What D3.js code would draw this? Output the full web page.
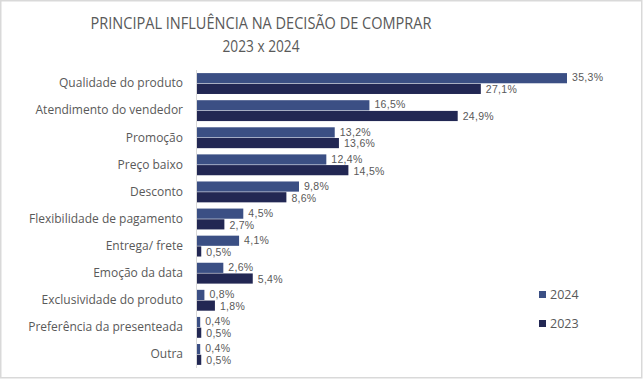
<!DOCTYPE html>
<html>
<head>
<meta charset="utf-8">
<script src="https://cdn.jsdelivr.net/npm/d3@7"></script>
<style>
  body { margin: 0; background: #fff; }
  text { font-family: "Open Sans", "DejaVu Sans", sans-serif; fill: #595959; }
</style>
</head>
<body>
<script>
// Data
const categories = [
  "Qualidade do produto",
  "Atendimento do vendedor",
  "Promoção",
  "Preço baixo",
  "Desconto",
  "Flexibilidade de pagamento",
  "Entrega/ frete",
  "Emoção da data",
  "Exclusividade do produto",
  "Preferência da presenteada",
  "Outra"
];
const years = ["2024", "2023"];
const values2024 = [35.3, 16.5, 13.2, 12.4, 9.8, 4.5, 4.1, 2.6, 0.8, 0.4, 0.4];
const values2023 = [27.1, 24.9, 13.6, 14.5, 8.6, 2.7, 0.5, 5.4, 1.8, 0.5, 0.5];
const colors = { "2024": "#3b4f84", "2023": "#222753" };

const width = 643, height = 381;

const svg = d3.select("body").append("svg")
  .attr("width", width)
  .attr("height", height);

// outer border
svg.append("rect")
  .attr("x", 0.75).attr("y", 0.75)
  .attr("width", 641).attr("height", 377)
  .attr("fill", "#fff")
  .attr("stroke", "#d9d9d9")
  .attr("stroke-width", 1.5);

// title
svg.append("text")
  .attr("x", 261).attr("y", 29)
  .attr("text-anchor", "middle")
  .style("font-size", "16.5px")
  .attr("textLength", 341)
  .attr("lengthAdjust", "spacingAndGlyphs")
  .text("PRINCIPAL INFLUÊNCIA NA DECISÃO DE COMPRAR");

svg.append("text")
  .attr("x", 261).attr("y", 52)
  .attr("text-anchor", "middle")
  .style("font-size", "16.5px")
  .attr("textLength", 77)
  .attr("lengthAdjust", "spacingAndGlyphs")
  .text("2023 x 2024");

// scales
const x = d3.scaleLinear()
  .domain([0, 35.3])
  .range([196, 567]);

const y = d3.scaleBand()
  .domain(categories)
  .range([70, 368])
  .paddingInner(0.19)
  .paddingOuter(0.095);

const ySub = d3.scaleBand()
  .domain(years)
  .range([0, y.bandwidth()])
  .padding(0.05);

const rows = categories.map((c, i) => ({
  category: c,
  bars: [
    { year: "2024", value: values2024[i] },
    { year: "2023", value: values2023[i] }
  ]
}));

const fmt = v => d3.format(".1f")(v).replace(".", ",") + "%";

const groups = svg.selectAll(".group")
  .data(rows)
  .enter()
  .append("g")
  .attr("class", "group")
  .attr("transform", d => `translate(0,${y(d.category)})`);

groups.selectAll("rect")
  .data(d => d.bars)
  .enter()
  .append("rect")
  .attr("x", x(0))
  .attr("y", d => ySub(d.year))
  .attr("width", d => x(d.value) - x(0))
  .attr("height", ySub.bandwidth())
  .attr("fill", d => colors[d.year]);

// value labels, nudged slightly apart so the stacked pair stays readable
groups.selectAll(".val")
  .data(d => d.bars)
  .enter()
  .append("text")
  .attr("class", "val")
  .attr("x", d => x(d.value) + 5)
  .attr("y", d => ySub(d.year) + ySub.bandwidth() / 2 + (d.year === "2024" ? -0.6 : 0.6))
  .attr("dy", "0.36em")
  .style("font-family", "\"Liberation Sans\", Arial, sans-serif")
  .style("font-size", "10.5px")
  .style("letter-spacing", "0.3px")
  .text(d => fmt(d.value));

// category axis (left)
const yAxis = svg.append("g")
  .attr("transform", `translate(${x(0)},0)`)
  .call(d3.axisLeft(y).tickSize(0).tickPadding(13));

yAxis.select(".domain")
  .attr("stroke", "#d9d9d9")
  .attr("d", "M0.5,70V368");

yAxis.selectAll("text")
  .style("font-size", "12px")
  .style("font-family", "\"Open Sans\", sans-serif")
  .attr("fill", "#595959");

// legend
const legend = svg.append("g")
  .selectAll("g")
  .data(years)
  .enter()
  .append("g")
  .attr("transform", (d, i) => `translate(539,${291 + i * 29})`);

legend.append("rect")
  .attr("width", 7)
  .attr("height", 7)
  .attr("fill", d => colors[d]);

legend.append("text")
  .attr("x", 11)
  .attr("y", 8)
  .style("font-size", "12.5px")
  .text(d => d);
</script>
</body>
</html>
